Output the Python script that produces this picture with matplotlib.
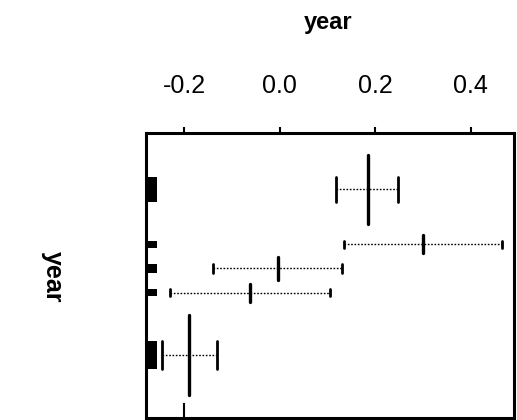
import matplotlib
matplotlib.use("Agg")
import matplotlib.pyplot as plt
import matplotlib.transforms as mtransforms
from matplotlib.patches import Rectangle

plt.rcParams['font.family'] = ['Liberation Sans', 'DejaVu Sans']

# group means with lower / upper interval limits
means = [0.185, 0.300, -0.003, -0.062, -0.190]
lows = [0.118, 0.135, -0.139, -0.229, -0.246]
highs = [0.247, 0.465, 0.130, 0.105, -0.131]
# vertical position of each group on the year axis (0 = top, 100 = bottom)
year_pos = [19.75, 39.05, 47.45, 56.0, 77.9]
# group size (bar and cap height) and weight (centre line length)
counts = [8.6, 2.4, 3.2, 2.6, 9.8]
weights = [24.2, 6.3, 8.1, 6.3, 28.4]
xticks = [-0.2, 0.0, 0.2, 0.4]

fig = plt.figure(figsize=(5.17, 4.20), dpi=100)
ax = fig.add_axes([146 / 517, 2 / 420, 368 / 517, 285 / 420])
ax.set_xlim(-0.2795, 0.4903)
ax.set_ylim(100, 0)

for m, lo, hi, y, n, w in zip(means, lows, highs, year_pos, counts, weights):
    ax.plot([lo, hi], [y, y], color='black', lw=1.0, linestyle=(0, (1.2, 1.2)))
    ax.plot([lo, lo], [y - n / 2, y + n / 2], color='black', lw=2.0,
            solid_capstyle='round')
    ax.plot([hi, hi], [y - n / 2, y + n / 2], color='black', lw=2.0,
            solid_capstyle='round')
    ax.plot([m, m], [y - w / 2, y + w / 2], color='black', lw=2.4,
            solid_capstyle='round')

# count bars along the left edge
trans = mtransforms.blended_transform_factory(ax.transAxes, ax.transData)
for y, n in zip(year_pos, counts):
    ax.add_patch(Rectangle((0, y - n / 2), 0.03, n, transform=trans,
                           facecolor='black', edgecolor='none'))

# reference mark on the bottom edge
ax.plot([-0.2, -0.2], [0, 0.05], color='black', lw=1.5,
        transform=mtransforms.blended_transform_factory(ax.transData, ax.transAxes))

ax.set_xticks(xticks)
ax.set_xticklabels(['%.1f' % t for t in xticks])
ax.xaxis.tick_top()
ax.tick_params(axis='x', direction='out', length=4, width=1.5, pad=21,
               labelsize=18)
ax.set_yticks([])
for s in ax.spines.values():
    s.set_linewidth(2.2)

fig.text(328 / 517, 1 - 22 / 420, 'year', ha='center', va='center',
         fontsize=17, fontweight='bold')
fig.text(53 / 517, 1 - 277 / 420, 'year', ha='center', va='center',
         fontsize=18, fontweight='bold', rotation=270)

fig.savefig('out.png', dpi=100)
